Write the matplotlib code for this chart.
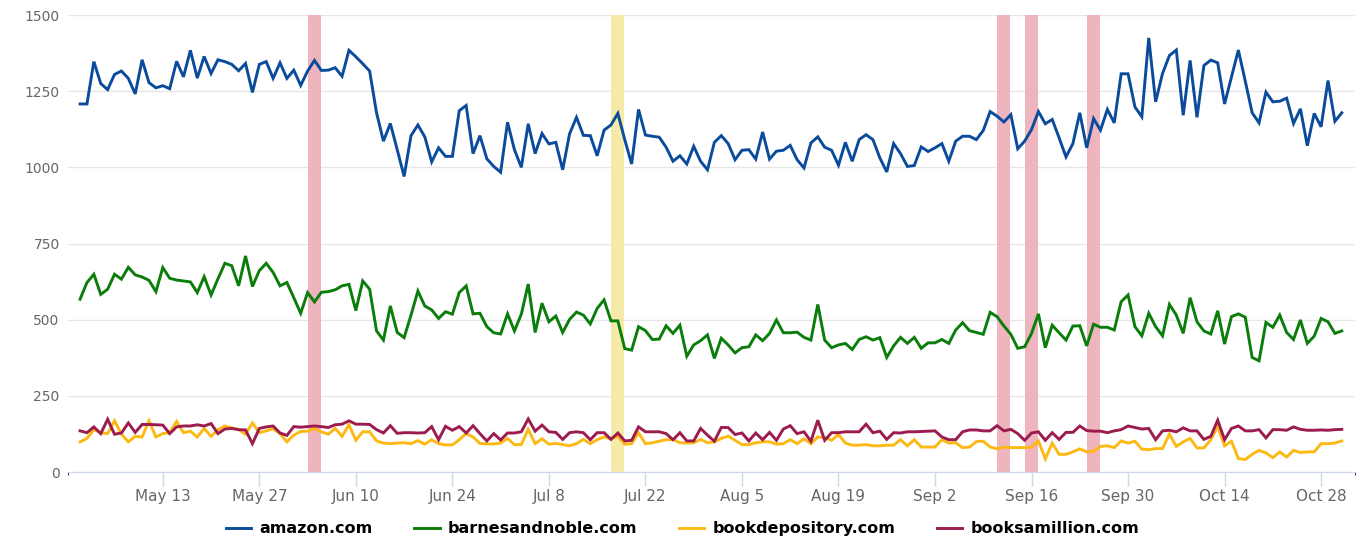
"""Daily visits for four online book stores, with event bands."""

import matplotlib
matplotlib.use("Agg")
import matplotlib.pyplot as plt
import matplotlib.dates as mdates
import pandas as pd

START_DATE = "2018-05-01"

AMAZON = [
    1208, 1208, 1347, 1275, 1255, 1305, 1316, 1292, 1241, 1353,
    1278, 1261, 1268, 1258, 1348, 1297, 1384, 1293, 1364, 1308,
    1353, 1347, 1338, 1317, 1341, 1246, 1338, 1347, 1292, 1343,
    1292, 1319, 1269, 1316, 1351, 1318, 1319, 1327, 1299, 1384,
    1363, 1340, 1316, 1179, 1086, 1144, 1058, 970, 1104, 1139,
    1100, 1018, 1064, 1036, 1036, 1186, 1203, 1045, 1104, 1028,
    1003, 984, 1148, 1058, 1000, 1143, 1045, 1111, 1077, 1082,
    992, 1110, 1164, 1105, 1104, 1038, 1122, 1139, 1177, 1091,
    1011, 1190, 1106, 1102, 1099, 1066, 1020, 1038, 1011, 1069,
    1020, 992, 1082, 1104, 1078, 1025, 1056, 1058, 1027, 1116,
    1027, 1053, 1056, 1072, 1025, 998, 1080, 1100, 1066, 1056,
    1007, 1082, 1020, 1091, 1107, 1091, 1031, 985, 1078, 1045,
    1003, 1006, 1067, 1052, 1064, 1078, 1020, 1086, 1102, 1102,
    1091, 1121, 1183, 1168, 1149, 1173, 1061, 1086, 1124, 1183,
    1143, 1157, 1097, 1034, 1078, 1179, 1064, 1160, 1122, 1190,
    1146, 1307, 1307, 1198, 1166, 1425, 1215, 1308, 1367, 1385,
    1171, 1351, 1164, 1334, 1352, 1343, 1208, 1297, 1385, 1283,
    1179, 1146, 1247, 1215, 1217, 1227, 1144, 1192, 1071, 1177,
    1133, 1285, 1151, 1179,
]

BARNES = [
    567, 622, 649, 583, 600, 649, 633, 672, 647, 640,
    629, 592, 671, 636, 630, 627, 624, 589, 641, 581,
    634, 685, 677, 611, 709, 609, 661, 685, 655, 611,
    622, 572, 521, 589, 558, 590, 592, 598, 611, 616,
    530, 627, 600, 463, 433, 545, 458, 441, 515, 594,
    545, 532, 504, 526, 518, 589, 611, 519, 521, 477,
    457, 453, 519, 463, 518, 617, 458, 554, 493, 512,
    458, 501, 525, 515, 486, 537, 565, 496, 496, 405,
    400, 477, 464, 435, 436, 480, 455, 482, 380, 417,
    431, 450, 373, 439, 417, 391, 408, 411, 450, 431,
    455, 499, 457, 457, 459, 442, 433, 550, 433, 408,
    417, 422, 402, 435, 444, 433, 441, 376, 414, 442,
    422, 442, 406, 424, 424, 435, 422, 466, 490, 464,
    458, 452, 524, 510, 479, 452, 406, 411, 455, 519,
    408, 482, 457, 433, 479, 480, 414, 485, 475, 475,
    466, 559, 581, 477, 447, 521, 477, 447, 550, 515,
    455, 572, 493, 463, 453, 529, 420, 510, 519, 508,
    376, 365, 491, 475, 515, 458, 435, 499, 422, 446,
    504, 493, 455, 463,
]

BOOKDEPOSITORY = [
    99, 110, 139, 129, 126, 168, 124, 99, 117, 115,
    168, 115, 126, 129, 166, 129, 134, 115, 143, 117,
    139, 151, 145, 139, 124, 161, 129, 135, 142, 126,
    99, 121, 133, 134, 143, 132, 124, 143, 117, 155,
    104, 132, 132, 102, 95, 93, 95, 96, 93, 103,
    91, 106, 93, 89, 89, 106, 126, 115, 94, 92,
    92, 95, 110, 90, 90, 140, 93, 109, 91, 94,
    90, 86, 93, 107, 93, 106, 115, 110, 117, 91,
    93, 128, 93, 96, 101, 106, 107, 96, 95, 96,
    107, 96, 99, 110, 118, 104, 90, 90, 96, 99,
    99, 91, 93, 106, 93, 109, 93, 115, 113, 104,
    123, 95, 88, 88, 90, 86, 86, 88, 88, 106,
    86, 106, 82, 82, 82, 106, 95, 96, 80, 82,
    100, 101, 82, 76, 82, 80, 80, 80, 82, 102,
    43, 95, 58, 58, 66, 76, 66, 68, 84, 86,
    80, 102, 95, 101, 75, 73, 77, 77, 124, 84,
    99, 110, 79, 79, 106, 150, 86, 101, 44, 41,
    58, 71, 63, 47, 66, 49, 71, 64, 66, 66,
    93, 93, 95, 102,
]

BOOKSAMILLION = [
    135, 129, 148, 126, 173, 124, 128, 161, 130, 156,
    156, 155, 154, 126, 148, 151, 151, 155, 151, 159,
    126, 141, 143, 139, 138, 93, 143, 148, 151, 128,
    120, 149, 147, 149, 151, 149, 146, 155, 157, 168,
    157, 157, 156, 139, 128, 152, 127, 129, 129, 128,
    129, 149, 106, 150, 137, 149, 128, 152, 126, 102,
    126, 105, 128, 128, 132, 174, 134, 154, 132, 130,
    107, 129, 132, 129, 106, 129, 129, 107, 128, 102,
    104, 148, 132, 132, 132, 126, 106, 129, 102, 102,
    143, 121, 101, 146, 146, 123, 128, 102, 128, 106,
    130, 104, 141, 152, 126, 132, 101, 170, 104, 129,
    129, 132, 132, 132, 157, 129, 134, 107, 129, 128,
    132, 132, 133, 134, 135, 115, 106, 106, 132, 138,
    138, 135, 135, 152, 135, 140, 126, 104, 128, 132,
    104, 129, 107, 130, 130, 151, 136, 134, 134, 129,
    135, 139, 151, 146, 141, 143, 106, 135, 137, 132,
    145, 135, 135, 107, 117, 170, 106, 143, 151, 135,
    135, 139, 112, 139, 139, 137, 148, 140, 137, 137,
    138, 137, 139, 140,
]

SERIES = ["amazon.com", "barnesandnoble.com", "bookdepository.com", "booksamillion.com"]
COLORS = ["#0b4b9c", "#0a7d0a", "#fdb913", "#9c1c4f"]

# shaded events: (start, end, colour)
BAND_STARTS = ["2018-06-03 00:00", "2018-07-17 00:00", "2018-09-11 00:00",
               "2018-09-15 00:00", "2018-09-24 00:00"]
BAND_ENDS = ["2018-06-05 00:00", "2018-07-18 20:00", "2018-09-12 20:00",
             "2018-09-17 00:00", "2018-09-25 22:00"]
BAND_COLORS = ["#eeb5bf", "#f6eaa9", "#eeb5bf", "#eeb5bf", "#eeb5bf"]

Y_TICKS = [0, 250, 500, 750, 1000, 1250, 1500]
X_TICKS = ["2018-05-13", "2018-05-27", "2018-06-10", "2018-06-24", "2018-07-08",
           "2018-07-22", "2018-08-05", "2018-08-19", "2018-09-02", "2018-09-16",
           "2018-09-30", "2018-10-14", "2018-10-28"]


def main():
    plt.rcParams["font.family"] = ["DejaVu Sans"]
    dates = pd.date_range(START_DATE, periods=len(AMAZON), freq="D")

    fig = plt.figure(figsize=(13.65, 5.48), dpi=100)
    ax = fig.add_axes([68 / 1365, 76 / 548, 1287 / 1365, 457 / 548])

    for s, e, c in zip(BAND_STARTS, BAND_ENDS, BAND_COLORS):
        ax.axvspan(pd.Timestamp(s), pd.Timestamp(e), color=c, lw=0, zorder=1)

    for name, values, color in zip(SERIES, [AMAZON, BARNES, BOOKDEPOSITORY, BOOKSAMILLION], COLORS):
        ax.plot(dates, values, color=color, lw=2.1, label=name, zorder=3,
                solid_joinstyle="miter")

    ax.set_ylim(0, 1500)
    ax.set_xlim(dates[0] - pd.Timedelta(hours=42), dates[-1] + pd.Timedelta(hours=46))
    ax.set_yticks(Y_TICKS)
    ax.grid(axis="y", color="#e6e6e6", lw=1, zorder=0)
    ax.set_axisbelow(True)

    ticks = [pd.Timestamp(t) for t in X_TICKS]
    ax.set_xticks(ticks)
    ax.set_xticklabels([f"{t:%b} {t.day}" for t in ticks])
    ax.xaxis.set_minor_locator(mdates.DayLocator(bymonthday=[32]))

    for side in ["top", "right", "left"]:
        ax.spines[side].set_visible(False)
    ax.spines["bottom"].set_color("#ccd6eb")
    ax.spines["bottom"].set_zorder(4)
    ax.tick_params(axis="x", length=10, width=1, color="#ccd6eb",
                   labelsize=11, labelcolor="#666666", pad=2)
    ax.tick_params(axis="y", length=0, labelsize=10, labelcolor="#666666", pad=6)

    fig.legend(loc="lower center", bbox_to_anchor=(0.5, -0.005), ncol=4,
               frameon=False, prop={"weight": "bold", "size": 11.5},
               handlelength=1.6, handletextpad=0.5, columnspacing=2.6)

    fig.savefig("out.png", dpi=100)


if __name__ == "__main__":
    main()
